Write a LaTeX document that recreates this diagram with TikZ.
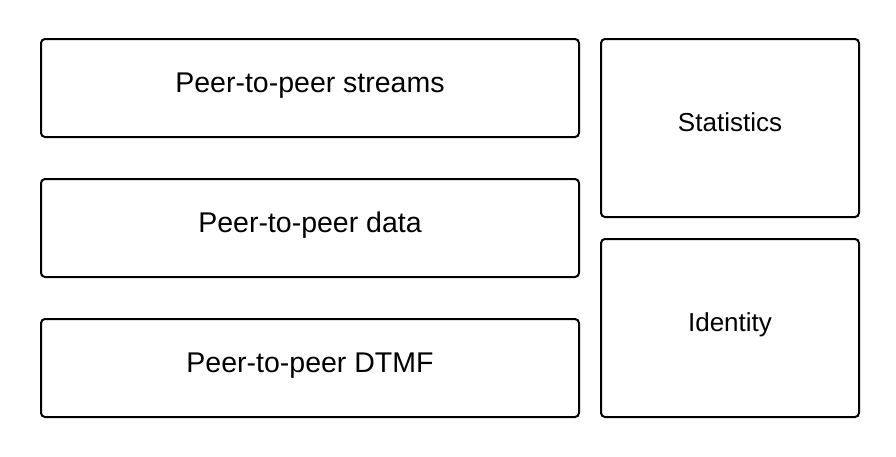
\documentclass[tikz,border=0pt]{standalone}
\usepackage{fontspec}
\setmainfont{Liberation Sans}
\usetikzlibrary{positioning}

\tikzset{
  block/.style={draw=black, line width=2pt, rounded corners=4pt, inner sep=0pt,
    anchor=north west, align=center},
  wide/.style={block, minimum width=538pt, minimum height=98pt,
    font=\fontsize{28.5}{30}\selectfont, text height=20pt, text depth=12pt},
  side/.style={block, minimum width=258pt, minimum height=178pt,
    font=\fontsize{26}{28}\selectfont, text height=18pt, text depth=12pt}
}

\begin{document}
\begin{tikzpicture}[x=1pt, y=-1pt]
  % Canvas
  \useasboundingbox (0,0) rectangle (896,456);

  % Left column
  \node[wide] (streams) at (40,38) {Peer-to-peer streams};
  \node[wide] (data) at (40,178) {Peer-to-peer data};
  \node[wide] (dtmf) at (40,318) {Peer-to-peer DTMF};

  % Right column
  \node[side] (stats) at (600,38) {Statistics};
  \node[side] (identity) at (600,238) {Identity};
\end{tikzpicture}
\end{document}
